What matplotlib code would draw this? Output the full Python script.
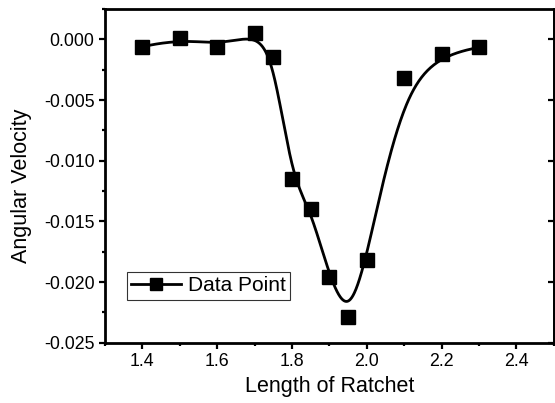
import matplotlib
matplotlib.use("Agg")
import matplotlib.pyplot as plt
import matplotlib.ticker as mtick
import numpy as np

plt.rcParams["font.family"] = ["Liberation Sans", "DejaVu Sans"]
plt.rcParams["axes.unicode_minus"] = False

# ratchet length vs. measured angular velocity
length = [1.40, 1.50, 1.60, 1.70, 1.75, 1.80, 1.85, 1.90, 1.95, 2.00, 2.10, 2.20, 2.30]
velocity = [-0.00061, 0.00008, -0.00060, 0.00050, -0.00148, -0.01151, -0.01400,
            -0.01960, -0.02290, -0.01820, -0.00320, -0.00124, -0.00066]


def bspline(px, py, degree=3, samples=600):
    """Clamped uniform B-spline using the points as control polygon."""
    pts = np.column_stack([px, py])
    n = len(pts)
    inner = np.arange(1, n - degree)
    knots = np.concatenate([np.zeros(degree + 1), inner, np.full(degree + 1, n - degree)])
    t = np.linspace(0, n - degree, samples)
    t[-1] -= 1e-9
    # Cox-de Boor recursion
    basis = np.array([(knots[i] <= t) & (t < knots[i + 1]) for i in range(len(knots) - 1)],
                     dtype=float)
    for k in range(1, degree + 1):
        nxt = np.zeros((len(knots) - 1 - k, len(t)))
        for i in range(len(knots) - 1 - k):
            a = knots[i + k] - knots[i]
            b = knots[i + k + 1] - knots[i + 1]
            left = (t - knots[i]) / a * basis[i] if a > 0 else 0
            right = (knots[i + k + 1] - t) / b * basis[i + 1] if b > 0 else 0
            nxt[i] = left + right
        basis = nxt
    curve = basis.T @ pts
    return curve[:, 0], curve[:, 1]


cx, cy = bspline(length, velocity)

fig = plt.figure(figsize=(5.55, 4.03), dpi=100)
ax = fig.add_axes([0.189, 0.1496, 0.809, 0.828])

ax.plot(cx, cy, color="black", lw=2.0, zorder=2)
ax.plot(length, velocity, ls="none", marker="s", ms=10, color="black", zorder=3)
# legend entry shows line + marker together
ax.plot([], [], color="black", lw=2.0, marker="s", ms=8, label="Data Point")

ax.set_xlim(1.3, 2.5)
ax.set_ylim(-0.025, 0.0025)
ax.xaxis.set_major_locator(mtick.MultipleLocator(0.2))
ax.xaxis.set_minor_locator(mtick.MultipleLocator(0.1))
ax.yaxis.set_major_locator(mtick.MultipleLocator(0.005))
ax.yaxis.set_minor_locator(mtick.MultipleLocator(0.0025))
ax.xaxis.set_major_formatter(mtick.FormatStrFormatter("%.1f"))
ax.yaxis.set_major_formatter(mtick.FuncFormatter(lambda v, _: f"{round(v, 4) + 0.0:.3f}"))

for side in ["top", "bottom", "left", "right"]:
    ax.spines[side].set_linewidth(2.0)

ax.tick_params(axis="both", which="major", direction="out", length=4.5, width=1.6,
               labelsize=12.8, pad=3)
ax.tick_params(axis="both", which="minor", direction="out", length=2.5, width=1.6)

# inward major ticks on the right spine
sec = ax.secondary_yaxis("right")
sec.yaxis.set_major_locator(mtick.MultipleLocator(0.005))
sec.tick_params(direction="in", length=4.5, width=1.6, labelright=False)
sec.spines["right"].set_linewidth(2.0)

ax.set_xlabel("Length of Ratchet", fontsize=15.5)
ax.set_ylabel("Angular Velocity", fontsize=15.5)
ax.xaxis.set_label_coords(0.5, -0.099)
ax.yaxis.set_label_coords(-0.163, 0.47)

leg = ax.legend(loc="lower left", bbox_to_anchor=(0.0497, 0.129), borderaxespad=0,
                fontsize=15, handlelength=2.4, handletextpad=0.3, borderpad=0.2,
                fancybox=False, frameon=True)
leg.get_frame().set_edgecolor("black")
leg.get_frame().set_linewidth(0.8)

fig.savefig("out.png", dpi=100)
